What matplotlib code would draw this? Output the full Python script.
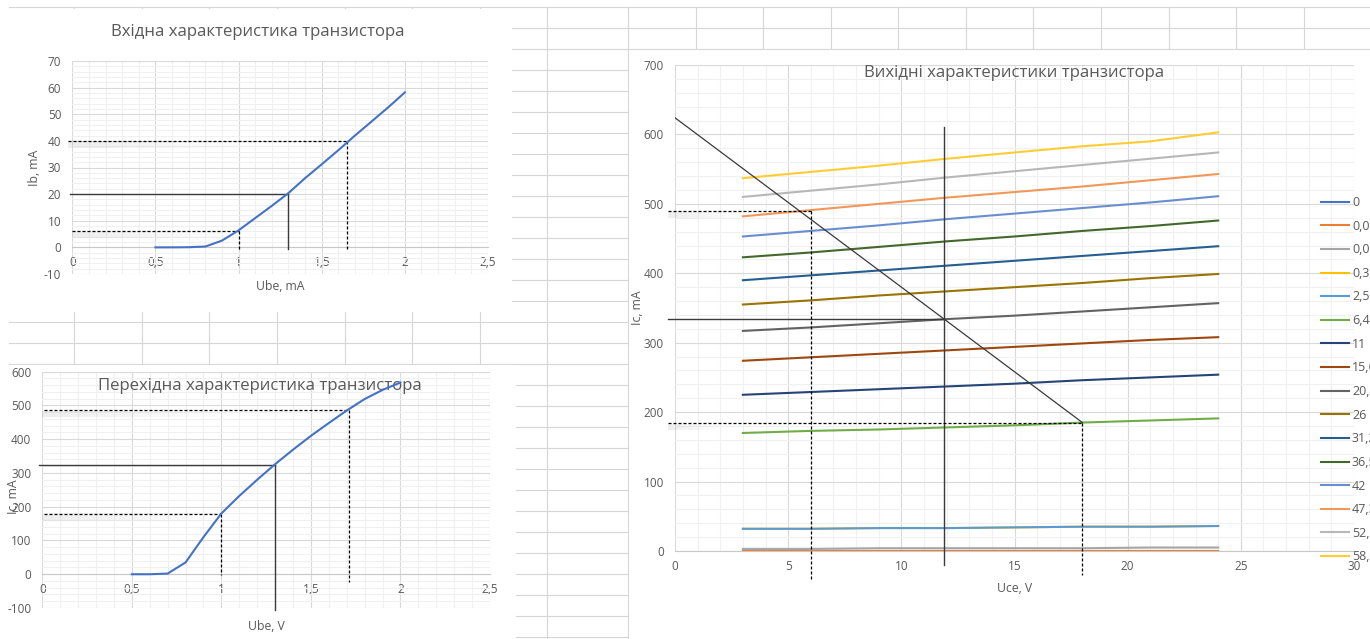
import numpy as np
import matplotlib
matplotlib.use("Agg")
import matplotlib.pyplot as plt
from matplotlib.lines import Line2D
from matplotlib.patches import Rectangle
import matplotlib.transforms as mtransforms

plt.rcParams['font.family'] = ['Open Sans', 'DejaVu Sans']

# ---- data ----
ube = [0.5, 0.6, 0.7, 0.8, 0.9, 1.0, 1.1, 1.2, 1.3, 1.4, 1.5, 1.6, 1.7, 1.8, 1.9, 2.0]
ib = [0, 0.01, 0.06, 0.32, 2.53, 6.4, 11.0, 15.6, 20.4, 26.0, 31.2, 36.5, 42.0, 47.3, 52.6, 58.2]
ic_transfer = [0, 0, 2, 35, 110, 180, 232, 280, 326, 369, 410, 448, 485, 519, 546, 568]

uce = [3, 6, 9, 12, 15, 18, 21, 24]
ic_family = [
    [0, 0, 0, 0, 0, 0, 0, 0],
    [0.5, 0.5, 0.5, 0.5, 0.5, 0.5, 0.5, 0.5],
    [3, 3, 4, 4, 4, 4, 5, 5],
    [32, 32, 33, 33, 34, 35, 35, 36],
    [32, 32, 33, 33, 34, 35, 35, 36],
    [170, 173, 175, 178, 181, 185, 188, 191],
    [225, 229, 233, 237, 241, 246, 250, 254],
    [274, 279, 284, 289, 294, 299, 304, 308],
    [317, 322, 328, 334, 339, 345, 351, 357],
    [355, 361, 368, 374, 380, 386, 393, 399],
    [390, 397, 404, 411, 418, 425, 432, 439],
    [423, 430, 438, 446, 453, 461, 468, 476],
    [453, 461, 469, 478, 486, 494, 502, 511],
    [482, 491, 500, 509, 517, 525, 534, 543],
    [510, 519, 528, 538, 547, 556, 565, 574],
    [537, 546, 555, 565, 574, 583, 590, 603],
]
family_labels = [f"{v:g}".replace('.', ',') for v in ib]
family_colors = ['#4472C4', '#ED7D31', '#A5A5A5', '#FFC000', '#5B9BD5', '#70AD47',
                 '#264478', '#9E480E', '#636363', '#997300', '#255E91', '#43682B',
                 '#698ED0', '#F1975A', '#B7B7B7', '#FFCD33']

# operating points (x, y) used for the construction lines
in_lo, in_op, in_hi = (1.0, 6.3), (1.3, 20), (1.65, 40)
tr_lo, tr_op, tr_hi = (1.0, 178), (1.3, 325), (1.71, 488)
load_line = ([0, 18], [624, 185])
out_op, out_lo, out_hi = (11.9, 334), (6, 490), (18, 185)

x12_ticks = [0, 0.5, 1, 1.5, 2, 2.5]
x12_labels = ['0', '0,5', '1', '1,5', '2', '2,5']

# ---- figure ----
W, H = 1370, 639
TXT = '#595959'
CELL = '#d6d6d6'
fig = plt.figure(figsize=(W / 100, H / 100), dpi=100, facecolor='white')

# spreadsheet cells behind the charts
for k in range(31):
    y = 7.3 + 21 * k
    fig.add_artist(Line2D([9 / W, 1], [1 - y / H] * 2, color=CELL, lw=0.8, zorder=-3))
for x in [73.8, 141.5, 209.2, 276.9, 344.6, 412.3, 480, 547, 628, 695.7, 763.3,
          830.7, 898.2, 965.8, 1033.4, 1101, 1168.6, 1236.2, 1303.8]:
    fig.add_artist(Line2D([x / W] * 2, [0, 1 - 7.3 / H], color=CELL, lw=0.8, zorder=-3))
for x0, y0, x1, y1 in [(-1, 8.5, 512, 311.5), (-1, 365, 515.5, 640), (629, 49.5, 1371, 640)]:
    fig.add_artist(Rectangle((x0 / W, 1 - y1 / H), (x1 - x0) / W, (y1 - y0) / H,
                             transform=fig.transFigure, facecolor='white',
                             edgecolor='none', zorder=-2))


def px_axes(l, t, r, b):
    return fig.add_axes([l / W, 1 - b / H, (r - l) / W, (b - t) / H])


def style_axes(ax, xlim, ylim, xmaj, xmin, ymaj, ymin, xlabels=None):
    ax.set_xlim(*xlim); ax.set_ylim(*ylim)
    ax.set_xticks(xmaj, labels=xlabels)
    ax.set_xticks(xmin, minor=True)
    ax.set_yticks(ymaj, labels=[f"{v:g}" for v in ymaj])
    ax.set_yticks(ymin, minor=True)
    ax.grid(which='major', color='#d9d9d9', lw=0.8)
    ax.grid(which='minor', color='#f0f0f0', lw=0.8)
    ax.set_axisbelow(True)
    for s in ['top', 'right', 'left']:
        ax.spines[s].set_visible(False)
    ax.spines['bottom'].set_position(('data', 0))
    ax.spines['bottom'].set_color('#c8c8c8')
    ax.spines['bottom'].set_linewidth(0.8)
    ax.tick_params(which='both', length=0, colors=TXT, labelsize=8.5)
    ax.tick_params(axis='x', pad=6.5)
    ax.tick_params(axis='y', pad=8)


def shadow(ax, x0, x1, y, frac):
    tr = mtransforms.offset_copy(ax.transData, fig=fig, x=0, y=-4, units='dots')
    n = 14
    xs = np.linspace(x0, x0 + frac * (x1 - x0), n + 1)
    for i in range(n):
        ax.plot(xs[i:i + 2], [y, y], color='#9a9a9a', lw=4.5, alpha=0.16 * (1 - i / n),
                transform=tr, solid_capstyle='butt', clip_on=False, zorder=1)


dash = dict(color='black', lw=0.9, ls=(0, (2.4, 1.6)), clip_on=False, zorder=3)
solid = dict(color='#3a3a3a', lw=1.0, clip_on=False, zorder=3)
curve = dict(color='#4472C4', lw=1.5, zorder=4)
title_kw = dict(va='center', color=TXT, fontsize=12.1, pad=0)

# ---- input characteristic ----
ax1 = px_axes(72.3, 61, 488, 274)
style_axes(ax1, (0, 2.5), (-10, 70), x12_ticks, np.arange(0, 2.51, 0.1),
           np.arange(-10, 71, 10), np.arange(-10, 71, 2), x12_labels)
ax1.plot(ube, ib, **curve)
shadow(ax1, -0.025, in_hi[0], in_hi[1], 0.6)
shadow(ax1, 0.0, in_lo[0], in_lo[1], 0.9)
ax1.plot([-0.025, in_hi[0]], [in_hi[1]] * 2, **dash)
ax1.plot([in_hi[0]] * 2, [in_hi[1], -1], **dash)
ax1.plot([-0.015, in_op[0]], [in_op[1]] * 2, **solid)
ax1.plot([in_op[0]] * 2, [in_op[1], -0.5], **solid)
ax1.plot([0.0, in_lo[0]], [in_lo[1]] * 2, **dash)
ax1.plot([in_lo[0]] * 2, [in_lo[1], -0.8], **dash)
ax1.set_title('Вхідна характеристика транзистора', x=0.447, y=1.136, **title_kw)
ax1.set_xlabel('Ube, mA', color=TXT, fontsize=8.8)
ax1.xaxis.set_label_coords(0.5, -0.03)
ax1.set_ylabel('Ib, mA', color=TXT, fontsize=8.8)
ax1.yaxis.set_label_coords(-0.075, 0.5)

# ---- transfer characteristic ----
ax2 = px_axes(42.3, 371.7, 490, 608)
style_axes(ax2, (0, 2.5), (-100, 600), x12_ticks, np.arange(0, 2.51, 0.1),
           np.arange(-100, 601, 100), np.arange(-100, 601, 20), x12_labels)
ax2.plot(ube, ic_transfer, **curve)
shadow(ax2, 0.0, tr_hi[0], tr_hi[1], 0.6)
shadow(ax2, 0.0, tr_lo[0], tr_lo[1], 0.9)
ax2.plot([0.01, tr_hi[0]], [tr_hi[1]] * 2, **dash)
ax2.plot([tr_hi[0]] * 2, [tr_hi[1], -24], **dash)
ax2.plot([-0.02, tr_op[0]], [tr_op[1]] * 2, **solid)
ax2.plot([tr_op[0]] * 2, [tr_op[1], -106], **solid)
ax2.plot([0.01, tr_lo[0]], [tr_lo[1]] * 2, **dash)
ax2.plot([tr_lo[0]] * 2, [tr_lo[1], -2], **dash)
ax2.set_title('Перехідна характеристика транзистора', x=0.486, y=0.939, **title_kw)
ax2.set_xlabel('Ube, V', color=TXT, fontsize=8.8)
ax2.xaxis.set_label_coords(0.5, -0.05)
ax2.set_ylabel('Ic, mA', color=TXT, fontsize=8.8)
ax2.yaxis.set_label_coords(-0.05, 0.47)

# ---- output characteristics ----
ax3 = px_axes(675, 65, 1354, 551)
style_axes(ax3, (0, 30), (0, 700), np.arange(0, 31, 5), np.arange(0, 31, 1),
           np.arange(0, 701, 100), np.arange(0, 701, 20),
           [str(v) for v in range(0, 31, 5)])
handles = []
for vals, col in zip(ic_family, family_colors):
    h, = ax3.plot(uce, vals, color=col, lw=1.5, zorder=2)
    handles.append(h)
shadow(ax3, -0.3, out_lo[0], out_lo[1], 0.5)
shadow(ax3, -0.3, out_hi[0], out_hi[1], 0.12)
ax3.plot(*load_line, color='#3a3a3a', lw=0.9, zorder=3)
ax3.plot([-0.3, out_op[0]], [out_op[1]] * 2, **solid)
ax3.plot([out_op[0]] * 2, [-20, 610], **solid)
ax3.plot([-0.3, out_lo[0]], [out_lo[1]] * 2, **dash)
ax3.plot([out_lo[0]] * 2, [out_lo[1], -42], **dash)
ax3.plot([-0.3, out_hi[0]], [out_hi[1]] * 2, **dash)
ax3.plot([out_hi[0]] * 2, [out_hi[1], -35], **dash)
ax3.set_title('Вихідні характеристики транзистора', x=0.5, y=0.984, **title_kw)
ax3.set_xlabel('Uce, V', color=TXT, fontsize=8.8)
ax3.xaxis.set_label_coords(0.5, -0.064)
ax3.set_ylabel('Ic, mA', color=TXT, fontsize=8.8)
ax3.yaxis.set_label_coords(-0.046, 0.5)
ax3.legend(handles, family_labels, loc='upper left', bbox_to_anchor=(1321 / W, 1 - 196 / H),
           bbox_transform=fig.transFigure, frameon=False, fontsize=9, labelcolor=TXT,
           handlelength=2.24, handletextpad=0.24, labelspacing=0.85,
           borderpad=0, borderaxespad=0)

fig.savefig('out.png', dpi=100, facecolor='white')
